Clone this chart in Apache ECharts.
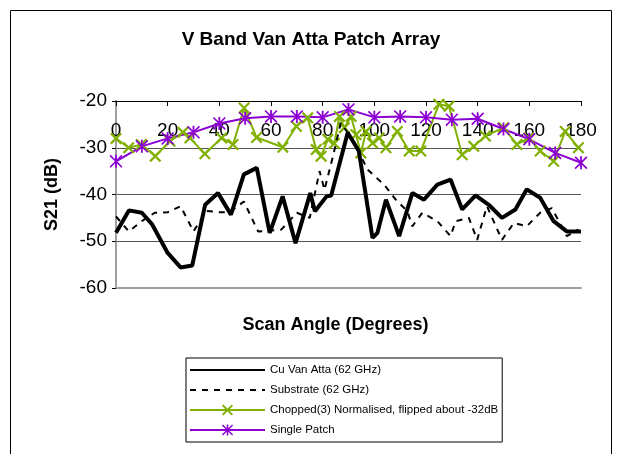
<!DOCTYPE html>
<html>
<head>
<meta charset="utf-8">
<script src="https://cdn.jsdelivr.net/npm/echarts@6/dist/echarts.min.js"></script>
<style>
html,body{margin:0;padding:0;background:#fff;}
#chart{width:622px;height:454px;}
</style>
</head>
<body>
<div id="chart"></div>
<script>
// ---- data ----
var titleText = 'V Band Van Atta Patch Array';
var xName = 'Scan Angle (Degrees)';
var yName = 'S21 (dB)';
var seriesNames = ['Cu Van Atta (62 GHz)', 'Substrate (62 GHz)', 'Chopped(3) Normalised, flipped about -32dB', 'Single Patch'];

var cuAngles = [0,5,10,14,20,25,29.5,34.5,39.5,44.5,49.5,54.5,59.5,64.5,69.5,75.2,77,81.5,83.3,86.5,89.7,94,99.3,101.2,104.5,109.6,114.7,119.2,124.4,129.5,134,139.2,144.3,149.4,154.6,159,164.2,169.4,174.5,180];
var cuValues = [-48.2,-43.4,-43.9,-46.4,-52.5,-55.6,-55.2,-42.2,-39.7,-44.3,-35.7,-34.3,-48.2,-40.4,-50.4,-39.7,-43.6,-40.4,-40.2,-33.5,-26.8,-30.7,-49.3,-48.2,-41.1,-48.9,-39.7,-41.1,-37.9,-36.8,-43.2,-40.2,-42.2,-45,-43.2,-38.9,-40.7,-45.7,-47.9,-47.9];

var subAngles = [0,5,10,15,20,25,30,35,40,44,49.5,55,60,64,70,75,78.8,80.7,84,87,89.7,94.2,97.4,103.8,108.3,112.8,114.7,118.6,124.4,129.5,131.5,136.6,139.8,143.6,149.4,154,159,164.2,168.7,174.5,179];
var subValues = [-44.7,-47.9,-45.7,-43.9,-43.8,-42.5,-47.9,-43.5,-43.8,-43.8,-41.5,-47.9,-47.7,-47.5,-43.9,-45,-35,-39,-31.8,-24.7,-26.8,-31.1,-34.7,-37.9,-41.1,-43.6,-46.8,-43.9,-45.7,-48.9,-45.7,-45,-49.7,-42.5,-49.7,-46.1,-46.8,-43.9,-42.9,-48.9,-47.5];

var chopAngles = [0,4.9,9.8,15.2,20.9,25.9,28.6,34.4,40.9,45.3,49.6,54.4,64.6,69.8,74.2,77.5,79.4,82,84.5,86.5,88.4,91,92.9,94.8,96.8,99.3,101.9,104.5,108.9,113.5,118,125,128.9,134,138.5,143,150,155.2,159.8,164.2,169.4,173.9,179];
var chopValues = [-28,-30,-29.3,-31.8,-28.6,-26.7,-27.9,-31.3,-27.9,-29.3,-21.5,-27.8,-29.9,-25.4,-23.6,-30.4,-31.8,-28.2,-29.1,-23.3,-25.7,-23.3,-27.2,-31.1,-26.5,-29,-27.9,-30,-26.5,-30.7,-30.7,-20.7,-21.1,-31.5,-29.7,-27.5,-25.7,-29.3,-27.9,-30.7,-32.9,-26.5,-30];

var patchAngles = [0,10,20,30,40,50,60,70,80,90,100,110,120,130,140,150,160,170,180];
var patchValues = [-32.9,-29.7,-28,-26.7,-24.8,-23.7,-23.3,-23.3,-23.5,-21.8,-23.5,-23.3,-23.5,-24,-23.8,-26,-28.2,-31.1,-33.2];

var xMin = 0, xMax = 180, xStep = 20;
var yMin = -60, yMax = -20, yStep = 10;

function pairs(xs, ys){ return xs.map(function(x,i){ return [x, ys[i]]; }); }

var FONT = '"Liberation Sans", Arial, sans-serif';
var X_PATH = 'path://M0,1.3L1.3,0L10,8.7L8.7,10ZM8.7,0L10,1.3L1.3,10L0,8.7Z';
var STAR_PATH = 'path://M4.3,0H5.7V10H4.3ZM0,0.9L0.9,0L10,9.1L9.1,10ZM9.1,0L10,0.9L0.9,10L0,9.1Z';
var GREEN = '#80b000';
var PURPLE = '#8c00d4';

var chart = echarts.init(document.getElementById('chart'), null, {renderer:'canvas'});
chart.setOption({
  backgroundColor: '#ffffff',
  animation: false,
  title: {
    text: titleText, left: 'center', top: 25,
    textStyle: {fontFamily: FONT, fontSize: 19, fontWeight: 'bold', color: '#000'}
  },
  graphic: [{
    type: 'rect', silent: true, z: -1,
    shape: {x: 10.5, y: 10.5, width: 601, height: 470},
    style: {fill: 'none', stroke: '#000', lineWidth: 1}
  }],
  grid: {left: 116, top: 101, right: 41, bottom: 166, containLabel: false},
  legend: {
    orient: 'vertical', left: 186, top: 358,
    padding: [6, 4, 6, 3],
    itemWidth: 75, itemHeight: 14, itemGap: 8,
    selectedMode: false,
    borderColor: '#000', borderWidth: 1,
    textStyle: {fontFamily: FONT, fontSize: 11.5, color: '#000'},
    data: [
      {name: seriesNames[0], itemStyle: {opacity: 0}},
      {name: seriesNames[1], itemStyle: {opacity: 0}},
      {name: seriesNames[2]},
      {name: seriesNames[3]}
    ]
  },
  xAxis: [{
    type: 'value', position: 'top', min: xMin, max: xMax, interval: xStep,
    axisLine: {show: true, lineStyle: {color: '#000', width: 1}},
    axisTick: {show: true, inside: true, length: 5, lineStyle: {color: '#000'}},
    axisLabel: {inside: true, margin: 20, fontFamily: FONT, fontSize: 19, color: '#000'},
    splitLine: {show: false}
  }, {
    type: 'value', position: 'bottom', min: xMin, max: xMax, interval: xStep,
    name: xName, nameLocation: 'middle', nameGap: 28,
    nameTextStyle: {fontFamily: FONT, fontSize: 18, fontWeight: 'bold', color: '#000', padding: [0, 26, 0, 0]},
    axisLine: {show: true, lineStyle: {color: '#a0a0a0', width: 2}},
    axisTick: {show: false}, axisLabel: {show: false}, splitLine: {show: false}
  }],
  yAxis: [{
    type: 'value', position: 'left', min: yMin, max: yMax, interval: yStep,
    name: yName, nameLocation: 'middle', nameRotate: 90, nameGap: 55,
    nameTextStyle: {fontFamily: FONT, fontSize: 18, fontWeight: 'bold', color: '#000'},
    axisLine: {show: true, lineStyle: {color: '#000', width: 1}},
    axisTick: {show: true, inside: false, length: 4, lineStyle: {color: '#000'}},
    axisLabel: {margin: 9, fontFamily: FONT, fontSize: 19, color: '#000'},
    splitLine: {show: true, showMinLine: false, showMaxLine: false, lineStyle: {color: '#555', width: 1}}
  }, {
    type: 'value', position: 'right', min: yMin, max: yMax, interval: yStep,
    axisLine: {show: true, lineStyle: {color: '#a0a0a0', width: 2}},
    axisTick: {show: false}, axisLabel: {show: false}, splitLine: {show: false}
  }],
  series: [{
    name: seriesNames[0], type: 'line', xAxisIndex: 0, yAxisIndex: 0,
    data: pairs(cuAngles, cuValues), showSymbol: false, symbol: 'none',
    lineStyle: {color: '#000', width: 4}, itemStyle: {color: '#000'}, z: 3
  }, {
    name: seriesNames[1], type: 'line', xAxisIndex: 0, yAxisIndex: 0,
    data: pairs(subAngles, subValues), showSymbol: false, symbol: 'none',
    lineStyle: {color: '#000', width: 2, type: [6, 6]}, itemStyle: {color: '#000'}, z: 3
  }, {
    name: seriesNames[2], type: 'line', xAxisIndex: 0, yAxisIndex: 0,
    data: pairs(chopAngles, chopValues), symbol: X_PATH, symbolSize: 12, showAllSymbol: true,
    lineStyle: {color: GREEN, width: 2}, itemStyle: {color: GREEN}, z: 2
  }, {
    name: seriesNames[3], type: 'line', xAxisIndex: 0, yAxisIndex: 0,
    data: pairs(patchAngles, patchValues), symbol: STAR_PATH, symbolSize: 13, showAllSymbol: true,
    lineStyle: {color: PURPLE, width: 2}, itemStyle: {color: PURPLE}, z: 2
  }]
});
</script>
</body>
</html>
